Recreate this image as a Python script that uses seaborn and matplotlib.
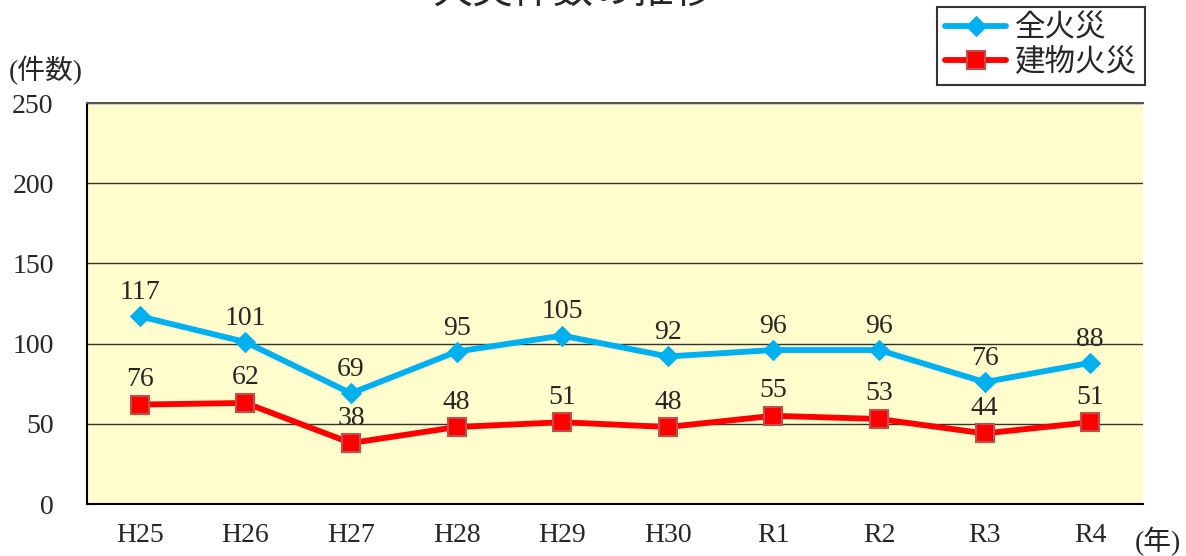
import pandas as pd
import matplotlib
matplotlib.use("Agg")
import matplotlib.pyplot as plt
import seaborn as sns

years = ["H25", "H26", "H27", "H28", "H29", "H30", "R1", "R2", "R3", "R4"]
all_fires = [117, 101, 69, 95, 105, 92, 96, 96, 76, 88]
building_fires = [62, 63, 38, 48, 51, 48, 55, 53, 44, 51]
# labels as printed in the original (first two differ from the plotted points)
all_labels = ["117", "101", "69", "95", "105", "92", "96", "96", "76", "88"]
building_labels = ["76", "62", "38", "48", "51", "48", "55", "53", "44", "51"]

BLUE = "#00B0F0"
RED = "#FF0000"

sns.set_style("white")
plt.rcParams["font.family"] = ["Liberation Serif", "Noto Sans CJK JP", "DejaVu Sans"]

df = pd.DataFrame({"year": years, "all": all_fires, "building": building_fires})

fig = plt.figure(figsize=(11.86, 5.56), dpi=100)
ax = fig.add_axes([87 / 1186, 1 - 504 / 556, (1143 - 87) / 1186, (504 - 103) / 556])
ax.set_facecolor("#FFFDCC")

sns.lineplot(ax=ax, data=df, x="year", y="all", color=BLUE, linewidth=4.2,
             marker="D", markersize=10, markeredgecolor=BLUE, label="全火災")
sns.lineplot(ax=ax, data=df, x="year", y="building", color=RED, linewidth=4.2,
             marker="s", markersize=13, markeredgecolor="#C0504D",
             markeredgewidth=1.5, label="建物火災")

for i, (v, t) in enumerate(zip(all_fires, all_labels)):
    ax.annotate(t, (i, v), xytext=(0, 17), textcoords="offset points",
                ha="center", va="center", fontsize=20)
for i, (v, t) in enumerate(zip(building_fires, building_labels)):
    ax.annotate(t, (i, v), xytext=(0, 18), textcoords="offset points",
                ha="center", va="center", fontsize=20)

ax.set_xlim(-0.5, len(years) - 0.5)
ax.set_ylim(0, 250)
ax.set_yticks(range(0, 251, 50))
ax.set_xticks(range(len(years)))
ax.set_xticks([i + 0.5 for i in range(len(years) - 1)] + [len(years) - 0.5], minor=True)
ax.tick_params(axis="x", which="major", length=0, pad=14, labelsize=20)
ax.tick_params(axis="x", which="minor", direction="in", length=7, width=1, color="#444444")
ax.tick_params(axis="y", length=0, pad=24, labelsize=20)
for lab in ax.get_yticklabels():
    lab.set_horizontalalignment("right")

ax.yaxis.grid(True, color="#333333", linewidth=1)
ax.xaxis.grid(False)
ax.set(xlabel=None, ylabel=None)

for side in ["left", "bottom"]:
    ax.spines[side].set_color("black")
    ax.spines[side].set_linewidth(1.5)
ax.spines["top"].set_color("#555555")
ax.spines["top"].set_linewidth(1.5)
ax.spines["right"].set_visible(False)

handles, labels = ax.get_legend_handles_labels()
ax.get_legend().remove()
leg = fig.legend(handles, labels, loc="upper right",
                 bbox_to_anchor=(1145 / 1186, 1 - 7 / 556),
                 fontsize=22, frameon=True, fancybox=False, edgecolor="black",
                 handlelength=2.0, handletextpad=0.3, labelspacing=0.15,
                 borderpad=0.25, borderaxespad=0)
leg.get_frame().set_linewidth(1.5)

fig.text(574 / 1186, 1.012, "火災件数の推移", ha="center", va="center", fontsize=29)
fig.text(46 / 1186, 1 - 70 / 556, "(件数)", ha="center", va="center", fontsize=20)
fig.text(1158 / 1186, 1 - 541 / 556, "(年)", ha="center", va="center", fontsize=20)

fig.savefig("out.png", dpi=100)
